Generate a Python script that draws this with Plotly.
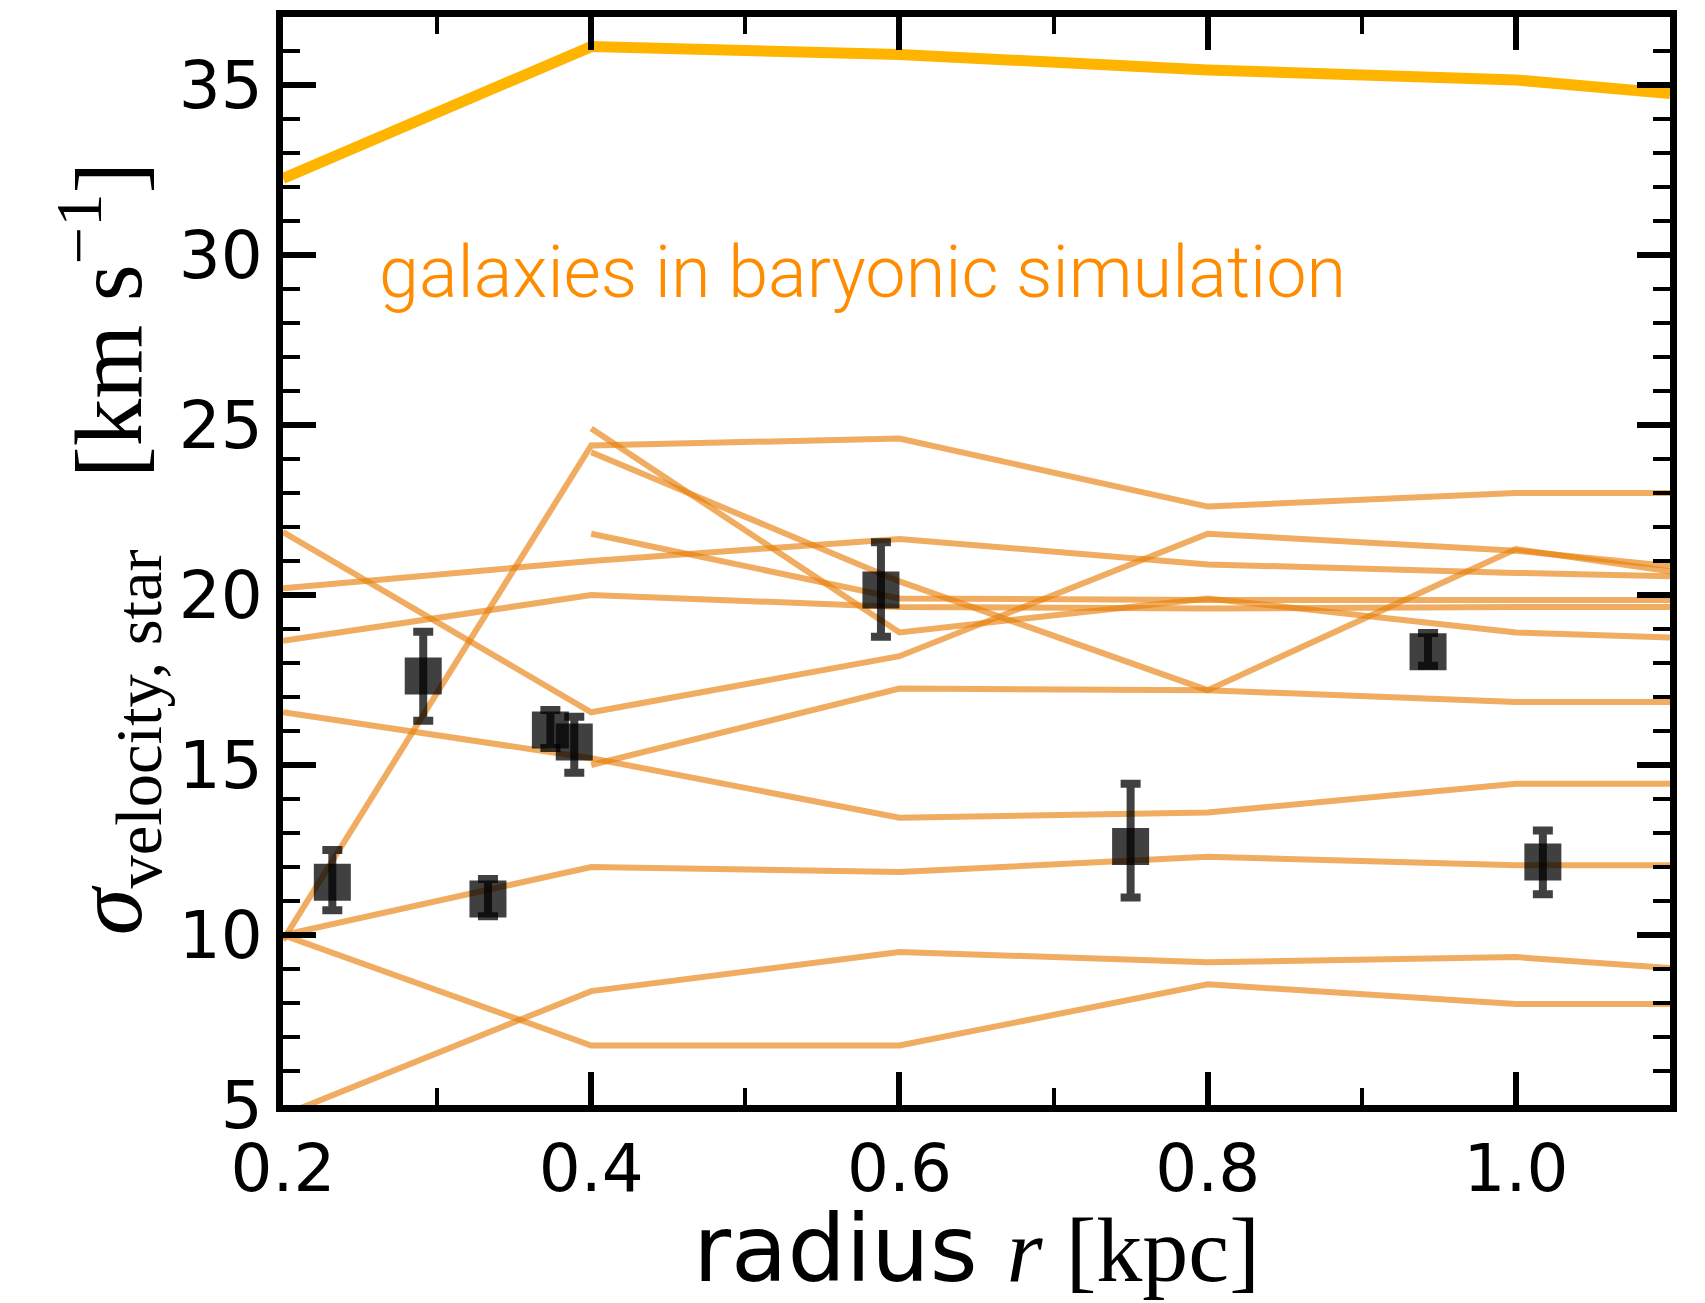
import plotly.graph_objects as go

# Radii (kpc) at which the simulated profiles are sampled; last entry is the plot edge
radius_grid = [0.2, 0.4, 0.6, 0.8, 1.0, 1.1]

# Stellar velocity dispersion profiles (km/s) of the simulated galaxies
sim_profiles = [
    [9.85, 24.4, 24.6, 22.6, 23.0, 23.0],
    [None, 24.9, 18.9, 19.9, 18.9, 18.75],
    [None, 24.2, 20.4, 17.2, 21.35, 20.7],
    [20.2, 21.0, 21.65, 20.9, 20.65, 20.55],
    [None, 21.8, 19.9, 19.85, 19.85, 19.85],
    [18.65, 20.0, 19.65, 19.6, 19.65, 19.65],
    [21.85, 16.55, 18.2, 21.8, 21.3, 20.85],
    [16.55, 15.2, 13.45, 13.6, 14.45, 14.45],
    [10.0, 12.0, 11.85, 12.3, 12.05, 12.05],
    [10.0, 6.75, 6.75, 8.55, 7.97, 7.97],
    [4.7, 8.35, 9.5, 9.2, 9.35, 9.03],
    [None, 15.0, 17.25, 17.2, 16.85, 16.85],
]

# Massive host profile
host_profile = [32.25, 36.13, 35.9, 35.44, 35.15, 34.75]

# Observed dwarf galaxies: half-light radius and dispersion with asymmetric errors
obs_r = [0.232, 0.291, 0.333, 0.3735, 0.389, 0.588, 0.750, 0.943, 1.0175]
obs_sigma = [11.55, 17.62, 11.06, 16.03, 15.68, 20.15, 12.6, 18.33, 12.15]
obs_err_hi = [0.95, 1.3, 0.59, 0.59, 0.74, 1.4, 1.85, 0.55, 0.92]
obs_err_lo = [0.82, 1.32, 0.51, 0.53, 0.91, 1.38, 1.5, 0.41, 0.95]

x_ticks = [0.2, 0.4, 0.6, 0.8, 1.0]
y_ticks = [5, 10, 15, 20, 25, 30, 35]

SIM_COLOR = "rgba(232,128,10,0.65)"
HOST_COLOR = "#FFB400"
OBS_COLOR = "rgba(0,0,0,0.75)"

fig = go.Figure()

for prof in sim_profiles:
    fig.add_trace(go.Scatter(
        x=radius_grid, y=prof, mode="lines",
        line=dict(color=SIM_COLOR, width=6),
        showlegend=False, hoverinfo="skip",
    ))

fig.add_trace(go.Scatter(
    x=radius_grid, y=host_profile, mode="lines",
    line=dict(color=HOST_COLOR, width=11),
    showlegend=False, hoverinfo="skip",
))

fig.add_trace(go.Scatter(
    x=obs_r, y=obs_sigma, mode="markers",
    marker=dict(symbol="square", size=37, color=OBS_COLOR, line=dict(width=0)),
    error_y=dict(type="data", symmetric=False, array=obs_err_hi, arrayminus=obs_err_lo,
                 color=OBS_COLOR, thickness=8, width=10),
    showlegend=False,
))

fig.add_annotation(
    x=0.261, y=29.5, xref="x", yref="y", xanchor="left", yanchor="middle",
    text="galaxies in baryonic simulation", showarrow=False,
    font=dict(family="Roboto", size=72, color="#FF8C00", weight=300),
)

# Vertical axis label, placed as a rotated annotation left of the tick labels
fig.add_annotation(
    x=-0.126, y=0.511, xref="paper", yref="paper", xanchor="center", yanchor="middle",
    textangle=-90, showarrow=False,
    text="<i>σ</i><sub>velocity, star</sub>   [km s<sup>−1</sup>]",
    font=dict(family="Liberation Serif", size=95, color="black"),
)

axis_common = dict(
    showline=True, linecolor="black", linewidth=7, mirror="allticks",
    ticks="inside", tickcolor="black", showgrid=False, zeroline=False,
    tickfont=dict(family="DejaVu Sans", size=66, color="black"),
)

fig.update_xaxes(
    range=[0.2, 1.1], tickvals=x_ticks, ticktext=[f"{v:.1f}" for v in x_ticks],
    ticklen=33, tickwidth=6,
    minor=dict(ticks="inside", ticklen=17, tickwidth=4, dtick=0.1, tick0=0.2, tickcolor="black"),
    title=dict(
        text="radius <span style=\"font-family:Liberation Serif\"><i>r</i> [kpc]</span>",
        font=dict(family="DejaVu Sans", size=92, color="black"), standoff=14),
    **axis_common,
)

fig.update_yaxes(
    range=[5, 37], tickvals=y_ticks, ticktext=[str(v) for v in y_ticks],
    ticklen=33, tickwidth=6,
    minor=dict(ticks="inside", ticklen=17, tickwidth=4, dtick=1, tick0=5, tickcolor="black"),
    **axis_common,
)

fig.update_layout(
    width=1705, height=1303,
    margin=dict(l=283, r=35, t=17, b=198, autoexpand=False),
    plot_bgcolor="white", paper_bgcolor="white",
)

fig.write_html("out.html")
